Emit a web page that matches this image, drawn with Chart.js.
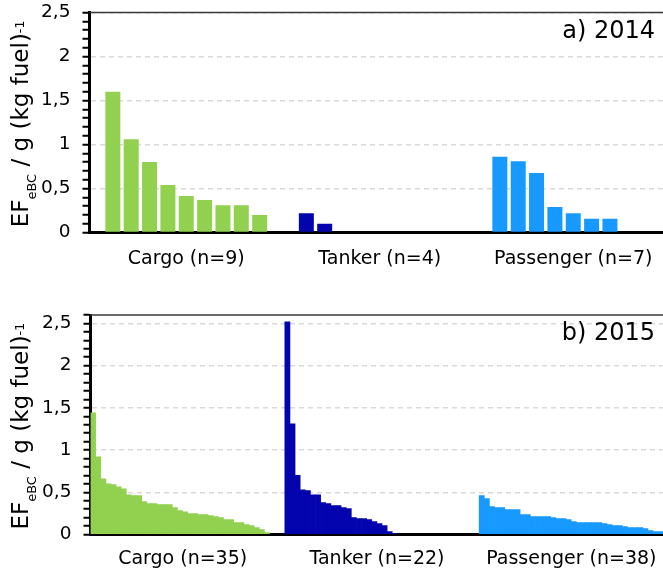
<!DOCTYPE html>
<html>
<head>
<meta charset="utf-8">
<title>Black carbon emission factors by ship type</title>
<script src="https://cdn.jsdelivr.net/npm/chart.js@4/dist/chart.umd.min.js"></script>
<style>
  html, body { margin: 0; padding: 0; background: #fff; overflow: hidden; width: 663px; height: 573px; }
  #wrap { position: relative; width: 663px; height: 573px; overflow: hidden; }
  canvas { position: absolute; left: 0; display: block; }
  #c2014 { top: 0; }
  #c2015 { top: 287px; }
</style>
</head>
<body>
<div id="wrap">
  <canvas id="c2014" width="680" height="287"></canvas>
  <canvas id="c2015" width="680" height="286"></canvas>
</div>
<script>
// ---- 2014 campaign: individual ships, sorted high to low within each type ----
const shipTypes2014 = ['Cargo (n=9)', 'Tanker (n=4)', 'Passenger (n=7)'];
const cargo2014     = [1.60, 1.06, 0.80, 0.54, 0.415, 0.37, 0.31, 0.31, 0.20];
const tanker2014    = [0.22, 0.10, 0, 0];
const passenger2014 = [0.86, 0.81, 0.675, 0.29, 0.22, 0.155, 0.155];

// ---- 2015 campaign ----
const shipTypes2015 = ['Cargo (n=35)', 'Tanker (n=22)', 'Passenger (n=38)'];
const cargo2015 = [1.44, 0.92, 0.66, 0.60, 0.59, 0.566, 0.542, 0.47, 0.46, 0.46,
                   0.39, 0.366, 0.366, 0.354, 0.354, 0.354, 0.32, 0.283, 0.27, 0.248,
                   0.248, 0.236, 0.236, 0.224, 0.212, 0.20, 0.177, 0.177, 0.142, 0.142,
                   0.118, 0.106, 0.083, 0.059, 0.024];
const tanker2015 = [2.52, 1.31, 0.70, 0.53, 0.52, 0.47, 0.47, 0.377, 0.365, 0.342,
                    0.342, 0.318, 0.307, 0.20, 0.189, 0.189, 0.177, 0.153, 0.13, 0.106,
                    0.035, 0.012];
const passenger2015 = [0.46, 0.425, 0.33, 0.318, 0.318, 0.295, 0.295, 0.295, 0.236, 0.236,
                       0.212, 0.212, 0.212, 0.212, 0.20, 0.189, 0.189, 0.177, 0.153, 0.142,
                       0.142, 0.142, 0.142, 0.142, 0.13, 0.118, 0.106, 0.106, 0.094, 0.083,
                       0.083, 0.083, 0.071, 0.047, 0.035, 0.035, 0.03, 0.02];

const typeColors = ['#92D050', '#0404AE', '#1899FF'];
const FONT = '"DejaVu Sans", Verdana, sans-serif';

Chart.defaults.font.family = FONT;
Chart.defaults.color = '#000';

// One dataset per rank: dataset i holds the i-th ship of every type,
// so each ship type forms its own cluster of bars.
function rankDatasets(groups) {
  const n = Math.max(...groups.map(g => g.length));
  const out = [];
  for (let i = 0; i < n; i++) {
    out.push({
      data: groups.map(g => (i < g.length ? g[i] : null)),
      backgroundColor: typeColors,
      borderWidth: 0
    });
  }
  return out;
}

// Frame line, panel tag and the y-axis title with sub/superscripts
const panelDecor = {
  id: 'panelDecor',
  afterDraw(chart, args, opts) {
    const { ctx, chartArea: a } = chart;
    ctx.save();
    ctx.strokeStyle = '#3a3a3a';
    ctx.lineWidth = 1.5;
    ctx.beginPath();
    ctx.moveTo(a.left, a.top);
    ctx.lineTo(chart.width, a.top);
    ctx.stroke();

    ctx.fillStyle = '#000';
    ctx.font = '24px ' + FONT;
    ctx.textAlign = 'right';
    ctx.textBaseline = 'alphabetic';
    ctx.fillText(opts.tag, opts.tagX, a.top + 25);

    const parts = [
      { t: 'EF', size: 23, dy: 0 },
      { t: 'eBC', size: 13, dy: 8 },
      { t: ' / g (kg fuel)', size: 23, dy: 0 },
      { t: '-1', size: 12.5, dy: -4 }
    ];
    let total = 0;
    parts.forEach(p => { ctx.font = p.size + 'px ' + FONT; p.w = ctx.measureText(p.t).width; total += p.w; });
    ctx.translate(opts.titleX, (a.top + a.bottom) / 2 + 1.5);
    ctx.rotate(-Math.PI / 2);
    ctx.textAlign = 'left';
    let x = -total / 2;
    parts.forEach(p => {
      ctx.font = p.size + 'px ' + FONT;
      ctx.fillText(p.t, x, p.dy);
      x += p.w;
    });
    ctx.restore();
  }
};

function makeChart(canvasId, labels, groups, cfg) {
  return new Chart(document.getElementById(canvasId), {
    type: 'bar',
    data: { labels, datasets: rankDatasets(groups) },
    options: {
      responsive: false,
      devicePixelRatio: 1,
      animation: false,
      layout: { padding: { top: cfg.padTop, right: cfg.padRight, left: 0, bottom: 0 } },
      datasets: { bar: { categoryPercentage: cfg.catPct, barPercentage: cfg.barPct } },
      plugins: {
        legend: { display: false },
        tooltip: { enabled: false },
        panelDecor: { tag: cfg.tag, tagX: 655, titleX: 27.5 }
      },
      scales: {
        x: {
          afterFit(s) { s.height = cfg.xHeight; },
          grid: { display: false, drawTicks: false },
          border: { display: true, color: '#000', width: 3 },
          ticks: { color: '#000', padding: cfg.xPad, labelOffset: cfg.xShift,
                   maxRotation: 0, autoSkip: false, font: { size: 19 } }
        },
        y: {
          min: 0,
          max: cfg.yMax,
          afterFit(s) {
            s.width = cfg.yWidth;
            s.paddingTop = 0;
            s.paddingBottom = 0;
          },
          ticks: {
            stepSize: 0.1,
            autoSkip: false,
            padding: 12,
            color: '#000',
            font: { size: 18.5 },
            callback(v) {
              const r = Math.round(v * 10);
              return r % 5 === 0 ? String(r / 10).replace('.', ',') : '';
            }
          },
          grid: {
            color(ctx) {
              if (!ctx.tick) return 'rgba(0,0,0,0)';
              const r = Math.round(ctx.tick.value * 10);
              return (r > 0 && r % 5 === 0) ? '#d9d9d9' : 'rgba(0,0,0,0)';
            },
            lineWidth: 1.5,
            tickColor: '#000',
            tickLength: 7,
            tickWidth: 2
          },
          border: { display: true, color: '#000', width: 3, dash: [5, 4] }
        }
      }
    },
    plugins: [panelDecor]
  });
}

makeChart('c2014', shipTypes2014, [cargo2014, tanker2014, passenger2014], {
  tag: 'a) 2014', yMax: 2.5, padTop: 12.5, padRight: 10, yWidth: 89.5, xHeight: 54.5,
  xPad: 15, xShift: 0, catPct: 0.8535, barPct: 0.817
});

makeChart('c2015', shipTypes2015, [cargo2015, tanker2015, passenger2015], {
  tag: 'b) 2015', yMax: 2.6, padTop: 28, padRight: 6.5, yWidth: 90.5, xHeight: 38.5,
  xPad: 13, xShift: -5, catPct: 1, barPct: 1
});
</script>
</body>
</html>
